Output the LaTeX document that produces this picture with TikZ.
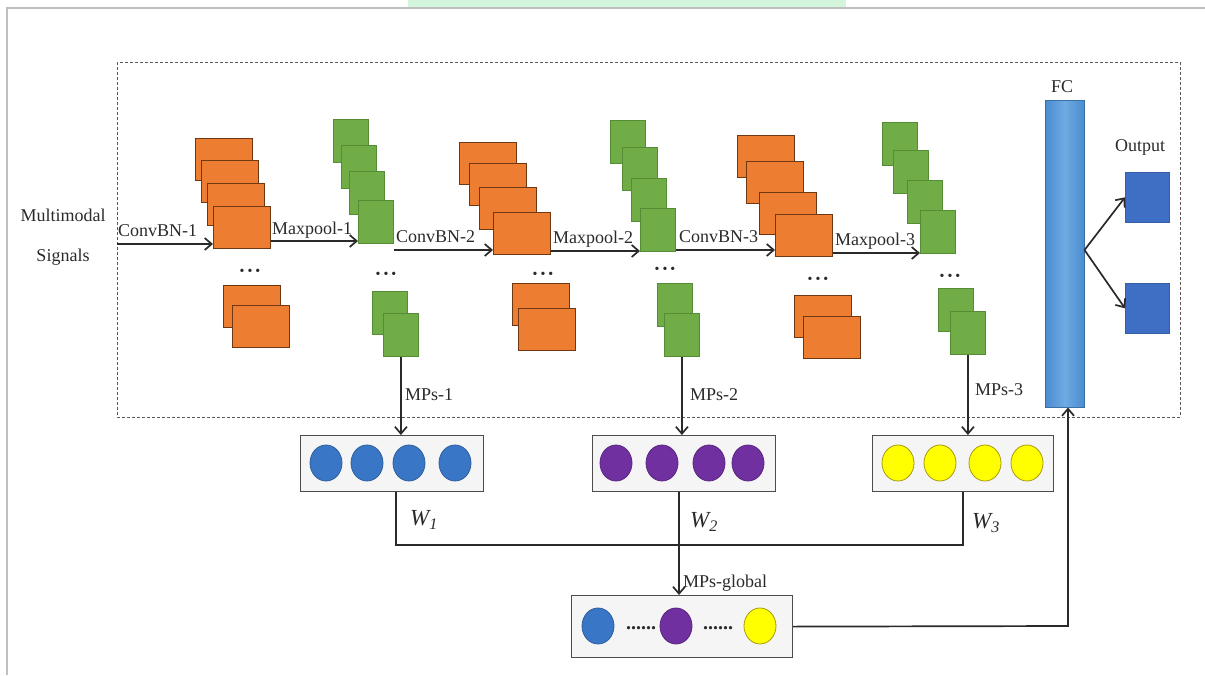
\documentclass[tikz,border=0pt]{standalone}
\usepackage{fontspec}
\setmainfont{Liberation Serif}
\usetikzlibrary{shapes.geometric,arrows.meta}
\definecolor{orng}{HTML}{ED7D31}
\definecolor{orngd}{HTML}{6E3812}
\definecolor{grn}{HTML}{70AD47}
\definecolor{grnd}{HTML}{558C36}
\definecolor{blu}{HTML}{3A76C6}
\definecolor{purp}{HTML}{7030A0}
\definecolor{yel}{HTML}{FFFF00}
\definecolor{yeld}{HTML}{A89A10}
\definecolor{outb}{HTML}{3F6FC4}
\definecolor{fcl}{HTML}{4A8CD0}
\definecolor{fcm}{HTML}{6FAAE2}
\definecolor{ink}{HTML}{2A2A2A}
\definecolor{wmark}{HTML}{D2F5DC}
\newcommand{\dotsrow}{\textbullet\hspace{3pt}\textbullet\hspace{3pt}\textbullet}
\tikzset{
  fmap/.style={rectangle, inner sep=0pt, minimum width=57pt, minimum height=42pt,
    fill=orng, draw=orngd, line width=1.2pt, anchor=north west},
  pmap/.style={rectangle, inner sep=0pt, minimum width=35pt, minimum height=43pt,
    fill=grn, draw=grnd, line width=0.8pt, anchor=north west},
  lbl/.style={text=ink, font=\fontsize{18}{20}\selectfont, inner sep=0pt},
  wlbl/.style={text=ink, font=\fontsize{23}{25}\selectfont\itshape, inner sep=0pt, anchor=west},
  dotsn/.style={text=ink, font=\fontsize{14}{14}\selectfont, inner sep=0pt},
  arr/.style={draw=ink, line width=1.7pt, -{Straight Barb[length=7pt,width=12pt]}},
  wire/.style={draw=ink, line width=1.7pt},
  mpbox/.style={rectangle, inner sep=0pt, minimum width=183pt, minimum height=56pt,
    fill=black!4, draw=black!70, line width=1.2pt, anchor=north west},
  dot/.style={ellipse, inner sep=0pt, minimum width=32pt, minimum height=36pt, line width=0.8pt},
  bdot/.style={dot, fill=blu, draw=blu!80!black},
  vdot/.style={dot, fill=purp, draw=purp!80!black},
  ydot/.style={dot, fill=yel, draw=yeld},
  outsq/.style={rectangle, inner sep=0pt, minimum width=44pt, minimum height=50pt,
    fill=outb, draw=outb!85!black, line width=0.6pt, anchor=north west},
}
\begin{document}
\begin{tikzpicture}[x=1pt,y=-1pt]
\useasboundingbox (0,0) rectangle (1205,675);
% screenshot frame and watermark
\fill[wmark] (408,0) rectangle (846,7);
\draw[black!25, line width=2pt] (7,675) -- (7,8) -- (1205,8);
% dashed container
\draw[black!65, line width=1pt, dash pattern=on 3pt off 2pt] (117,62) rectangle (1180,417);

% input label
\node[lbl, align=center] (inp) at (63,237) {Multimodal\\[20pt]Signals};

% stack 1 (orange)
\node[fmap] (o11) at (195,138) {};
\node[fmap] (o12) at (201,160) {};
\node[fmap] (o13) at (207,183) {};
\node[fmap] (o14) at (213,206) {};
\node[fmap] (o15) at (223,285) {};
\node[fmap] (o16) at (232,305) {};
\node[dotsn] (d1) at (250,272) {\dotsrow};
% stack 1 (green)
\node[pmap] (g11) at (333,119) {};
\node[pmap] (g12) at (341,145) {};
\node[pmap] (g13) at (349,171) {};
\node[pmap] (g14) at (358,200) {};
\node[pmap] (g15) at (372,291) {};
\node[pmap] (g16) at (383,313) {};
\node[dotsn] (d2) at (386,275) {\dotsrow};
% stack 2 (orange)
\node[fmap] (o21) at (459,142) {};
\node[fmap] (o22) at (469,163) {};
\node[fmap] (o23) at (479,187) {};
\node[fmap] (o24) at (493,212) {};
\node[fmap] (o25) at (512,283) {};
\node[fmap] (o26) at (518,308) {};
\node[dotsn] (d3) at (543,275) {\dotsrow};
% stack 2 (green)
\node[pmap] (g21) at (610,120) {};
\node[pmap] (g22) at (622,147) {};
\node[pmap] (g23) at (631,178) {};
\node[pmap] (g24) at (640,208) {};
\node[pmap] (g25) at (657,283) {};
\node[pmap] (g26) at (664,313) {};
\node[dotsn] (d4) at (665,270) {\dotsrow};
% stack 3 (orange)
\node[fmap] (o31) at (737,135) {};
\node[fmap] (o32) at (746,161) {};
\node[fmap] (o33) at (759,192) {};
\node[fmap] (o34) at (775,214) {};
\node[fmap] (o35) at (794,295) {};
\node[fmap] (o36) at (803,316) {};
\node[dotsn] (d5) at (818,280) {\dotsrow};
% stack 3 (green)
\node[pmap] (g31) at (882,122) {};
\node[pmap] (g32) at (893,150) {};
\node[pmap] (g33) at (907,180) {};
\node[pmap] (g34) at (920,210) {};
\node[pmap] (g35) at (938,288) {};
\node[pmap] (g36) at (950,311) {};
\node[dotsn] (d6) at (950,277) {\dotsrow};

% FC and output
\node[rectangle, inner sep=0pt, minimum width=39pt, minimum height=307pt, anchor=north west,
  left color=fcl, right color=fcl, middle color=fcm, draw=fcl!80!black, line width=0.5pt] (fc) at (1045,100) {};
\node[lbl] (fclbl) at (1062,87) {FC};
\node[lbl] (outlbl) at (1140,147) {Output};
\node[outsq] (out1) at (1125,172) {};
\node[outsq] (out2) at (1125,283) {};

% main flow arrows
\coordinate (start) at (117,244);
\draw[arr] (start) -- (o14.west |- 0,244);
\draw[arr] (o14.east |- 0,241) -- (g14.west |- 0,241);
\draw[arr] (g14.east |- 0,250) -- (o24.west |- 0,250);
\draw[arr] (o24.east |- 0,251) -- (g24.west |- 0,251);
\draw[arr] (g24.east |- 0,250) -- (o34.west |- 0,250);
\draw[arr] (o34.east |- 0,253) -- (g34.west |- 0,253);
\node[lbl, anchor=base west] (l1) at (118,236) {ConvBN-1};
\node[lbl, anchor=base west] (l2) at (272,234) {Maxpool-1};
\node[lbl, anchor=base west] (l3) at (396,242) {ConvBN-2};
\node[lbl, anchor=base west] (l4) at (553,243) {Maxpool-2};
\node[lbl, anchor=base west] (l5) at (679,242) {ConvBN-3};
\node[lbl, anchor=base west] (l6) at (835,245) {Maxpool-3};

\draw[arr] (fc.east |- 0,250) -- (out1.west);
\draw[arr] (fc.east |- 0,250) -- (out2.west);

% MPs boxes
\node[mpbox] (box1) at (300,435) {};
\node[mpbox] (box2) at (592,435) {};
\node[mpbox, minimum width=181pt] (box3) at (872,435) {};
\node[bdot] (c11) at (326,463) {};
\node[bdot] (c12) at (367,463) {};
\node[bdot] (c13) at (409,463) {};
\node[bdot] (c14) at (455,463) {};
\node[vdot] (c21) at (616,463) {};
\node[vdot] (c22) at (662,463) {};
\node[vdot] (c23) at (709,463) {};
\node[vdot] (c24) at (748,463) {};
\node[ydot] (c31) at (898,463) {};
\node[ydot] (c32) at (940,463) {};
\node[ydot] (c33) at (985,463) {};
\node[ydot] (c34) at (1027,463) {};

\draw[arr] (g16.south) -- (g16.south |- box1.north);
\draw[arr] (g26.south) -- (g26.south |- box2.north);
\draw[arr] (g36.south) -- (g36.south |- box3.north);
\node[lbl, anchor=west] (m1) at (405,395) {MPs-1};
\node[lbl, anchor=west] (m2) at (690,395) {MPs-2};
\node[lbl, anchor=west] (m3) at (975,390) {MPs-3};

% global box
\node[mpbox, minimum width=221pt, minimum height=62pt] (gbox) at (571,595) {};
\node[bdot] (gc1) at (598,626) {};
\node[vdot] (gc2) at (676,626) {};
\node[ydot] (gc3) at (760,626) {};
\node[text=ink, font=\fontsize{20}{20}\selectfont\bfseries, inner sep=0pt] (gd1) at (641,628) {......};
\node[text=ink, font=\fontsize{20}{20}\selectfont\bfseries, inner sep=0pt] (gd2) at (718,628) {......};
\node[lbl, anchor=west] (mg) at (683,583) {MPs-global};

% weighting wires
\draw[wire] (box1.south -| 396,0) -- (396,545) -- (963,545) -- (box3.south -| 963,0);
\draw[arr] (box2.south -| 679,0) -- (gbox.north -| 679,0);
\node[wlbl] (w1) at (410,520) {W\textsubscript{1}};
\node[wlbl] (w2) at (690,522) {W\textsubscript{2}};
\node[wlbl] (w3) at (972,523) {W\textsubscript{3}};

% global to FC
\draw[arr] (gbox.east) -- (1068,626) -- (fc.south -| 1068,0);
\end{tikzpicture}
\end{document}
